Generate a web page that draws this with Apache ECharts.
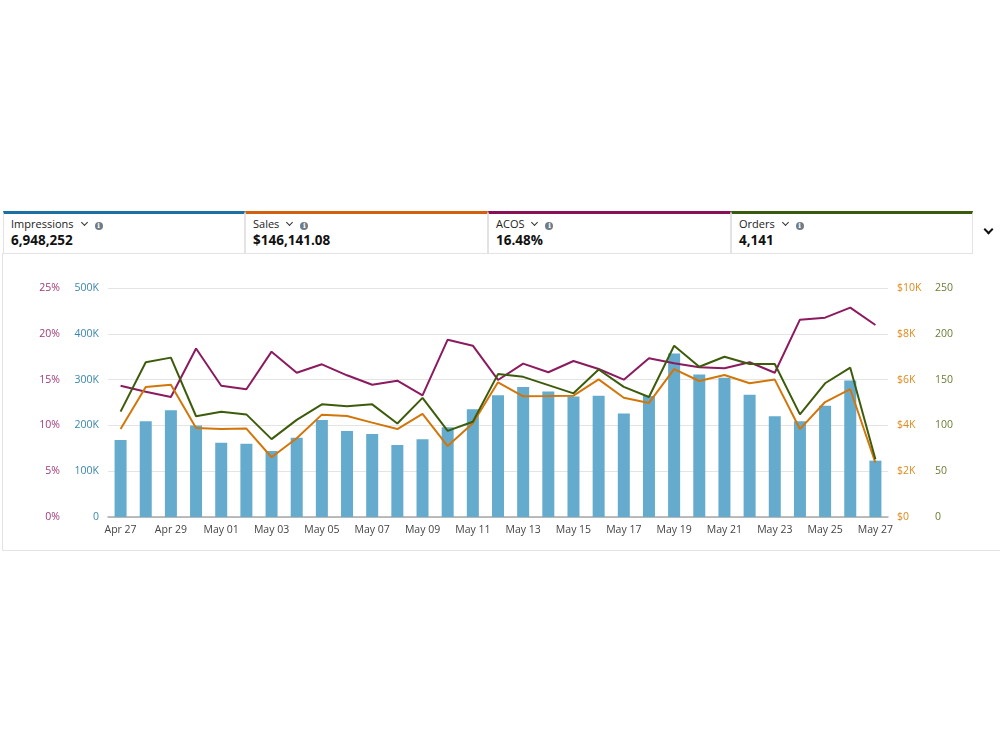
<!DOCTYPE html>
<html>
<head>
<meta charset="utf-8">
<script src="https://cdn.jsdelivr.net/npm/echarts@6/dist/echarts.min.js"></script>
<style>
  html, body { margin: 0; padding: 0; background: #fff; }
  body { width: 1000px; height: 750px; position: relative; overflow: hidden; font-family: "Open Sans", "Noto Sans", sans-serif; }
  #panel { position: absolute; left: 2px; top: 253px; width: 1000px; height: 298px; border-left: 1px solid #e3e3e3; border-bottom: 1px solid #e3e3e3; box-sizing: border-box; }
  .card { position: absolute; top: 211px; height: 43px; border: 1px solid #e3e3e3; border-top: 3px solid; box-sizing: border-box; background: #fff; }
  .card .lbl { position: absolute; left: 7px; top: 2px; font-size: 11px; color: #222; white-space: nowrap; }
  .chev { display: inline-block; width: 4px; height: 4px; border-right: 1.6px solid #333; border-bottom: 1.6px solid #333; transform: rotate(45deg); margin-left: 8px; vertical-align: 3px; }
  .info { display: inline-block; width: 8px; height: 8px; line-height: 8px; border-radius: 50%; background: #6f7c88; color: #fff; font-size: 7px; font-weight: bold; text-align: center; margin-left: 8px; vertical-align: 0px; font-family: "DejaVu Serif", serif; }
  .card .val { position: absolute; left: 7px; top: 17px; font-size: 13.5px; font-weight: bold; color: #111; }
  #more { position: absolute; left: 985px; top: 226px; width: 5px; height: 5px; border-right: 2px solid #111; border-bottom: 2px solid #111; transform: rotate(45deg); }
  #chart { position: absolute; left: 0; top: 0; width: 1000px; height: 750px; }
</style>
</head>
<body>
<div id="panel"></div>
<div id="chart"></div>
<div class="card" style="left:3px;width:242px;border-top-color:#1c6fa3;"><div class="lbl">Impressions<span class="chev"></span><span class="info">i</span></div><div class="val">6,948,252</div></div>
<div class="card" style="left:245px;width:243px;border-top-color:#d2600e;"><div class="lbl">Sales<span class="chev"></span><span class="info">i</span></div><div class="val">$146,141.08</div></div>
<div class="card" style="left:488px;width:243px;border-top-color:#8a0f57;"><div class="lbl">ACOS<span class="chev"></span><span class="info">i</span></div><div class="val">16.48%</div></div>
<div class="card" style="left:731px;width:242px;border-top-color:#3a5a0c;"><div class="lbl">Orders<span class="chev"></span><span class="info">i</span></div><div class="val">4,141</div></div>
<div id="more"></div>
<script>
const dates = ["Apr 27","Apr 28","Apr 29","Apr 30","May 01","May 02","May 03","May 04","May 05","May 06","May 07","May 08","May 09","May 10","May 11","May 12","May 13","May 14","May 15","May 16","May 17","May 18","May 19","May 20","May 21","May 22","May 23","May 24","May 25","May 26","May 27"];
const impressions = [168000,209000,233000,200000,162000,160000,144000,173000,212000,188000,181000,157000,170000,196000,235000,266000,284000,274000,263000,265000,226000,264000,357000,311000,304000,267000,220000,209000,243000,298000,123000];
const sales = [3840,5680,5780,3890,3840,3860,2610,3440,4470,4410,4120,3840,4500,3100,4090,5880,5270,5280,5300,6010,5210,4980,6460,5940,6200,5840,6000,3840,5020,5580,2370];
const acos = [14.33,13.68,13.1,18.4,14.33,13.94,18.05,15.75,16.67,15.47,14.44,14.88,13.28,19.36,18.7,14.96,16.74,15.8,17.03,16.16,14.99,17.33,16.78,16.34,16.23,16.89,15.75,21.54,21.76,22.85,20.96];
const orders = [115,169,174,110,115,112,85,106,123,121,123,102,130,94,104,156,153,144,135,161,142,131,187,164,175,167,167,112,146,163,63];

const chart = echarts.init(document.getElementById('chart'));
const font = '"Open Sans", "Noto Sans", sans-serif';
function yAxis(pos, max, interval, color, fmt, margin, split) {
  return {
    type: 'value', position: pos, min: 0, max: max, interval: interval,
    axisLine: { show: false }, axisTick: { show: false },
    splitLine: { show: split, lineStyle: { color: '#e4e4e4', width: 1 } },
    axisLabel: { color: color, fontSize: 10.5, fontFamily: font, margin: margin, formatter: fmt }
  };
}
chart.setOption({
  animation: false,
  grid: { left: 108, right: 112, top: 288, bottom: 233, containLabel: false },
  xAxis: {
    type: 'category', data: dates, boundaryGap: true,
    axisLine: { lineStyle: { color: '#a8a8a8', width: 1.5 } },
    axisTick: { show: false },
    axisLabel: { color: '#444', fontSize: 10.5, fontFamily: font, interval: 1, margin: 8 }
  },
  yAxis: [
    yAxis('left', 500000, 100000, '#3a86ad', v => v === 0 ? '0' : (v / 1000) + 'K', 9, true),
    yAxis('left', 25, 5, '#a03a78', v => v + '%', 48, false),
    yAxis('right', 10000, 2000, '#df8a1c', v => v === 0 ? '$0' : '$' + (v / 1000) + 'K', 9, false),
    yAxis('right', 250, 50, '#6a7d34', v => String(v), 47, false)
  ],
  series: [
    { name: 'Impressions', type: 'bar', yAxisIndex: 0, data: impressions, barWidth: 12, itemStyle: { color: '#65abcd' } },
    { name: 'ACOS', type: 'line', yAxisIndex: 1, data: acos, showSymbol: false, lineStyle: { color: '#8b1a5f', width: 2 } },
    { name: 'Sales', type: 'line', yAxisIndex: 2, data: sales, showSymbol: false, lineStyle: { color: '#d2760a', width: 2 } },
    { name: 'Orders', type: 'line', yAxisIndex: 3, data: orders, showSymbol: false, lineStyle: { color: '#3d5c0b', width: 2 } }
  ]
});
</script>
</body>
</html>
